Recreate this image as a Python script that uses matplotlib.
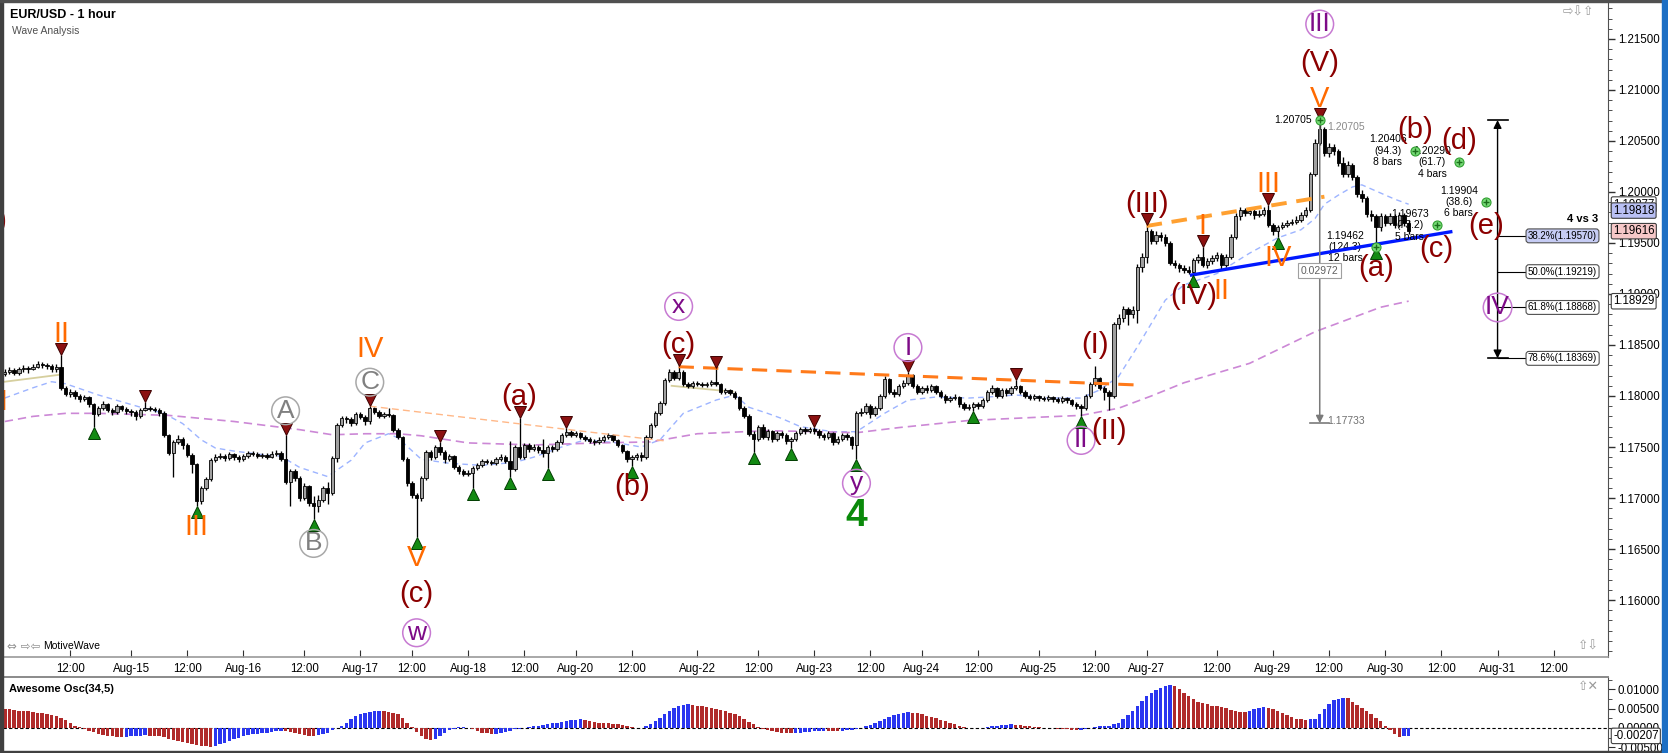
import numpy as np
import matplotlib
matplotlib.use("Agg")
from matplotlib import pyplot as plt
from matplotlib.patches import Rectangle
from matplotlib.ticker import MultipleLocator
from matplotlib.transforms import offset_copy

plt.rcParams['font.family'] = ['Liberation Sans', 'DejaVu Sans']

W, H = 1668, 753
BASE = 1.17  # all *_pips lists are pips above 1.1700

# ---- hourly candles ----
first_open = 122
close_pips = [
    124, 125, 123, 126, 127, 126, 128, 131, 130, 129,   # 0
    126, 128, 108, 102, 104, 100, 97, 99, 92, 82,       # 10
    88, 92, 86, 84, 90, 87, 85, 84, 80, 86,             # 20
    88, 87, 86, 83, 62, 44, 55, 58, 52, 42,             # 30
    33, -3, 10, 19, 37, 40, 41, 39, 43, 40,             # 40
    38, 41, 44, 43, 41, 42, 40, 43, 44, 38,             # 50
    16, 26, 20, 0, 12, -5, -8, -2, 10, 5,               # 60
    39, 72, 78, 77, 74, 82, 79, 75, 88, 84,             # 70
    80, 82, 81, 67, 60, 38, 15, 3, 0, 20,               # 80
    45, 40, 50, 45, 38, 41, 30, 26, 24, 25,             # 90
    29, 32, 36, 35, 34, 38, 40, 36, 28, 50,             # 100
    40, 52, 48, 50, 47, 44, 50, 48, 55, 62,             # 110
    65, 62, 64, 60, 58, 56, 55, 57, 60, 62,             # 120
    57, 52, 46, 38, 40, 42, 40, 60, 72, 83,             # 130
    93, 116, 124, 118, 124, 112, 110, 113, 112, 111,    # 140
    112, 114, 112, 104, 106, 103, 99, 88, 80, 63,       # 150
    58, 70, 60, 66, 58, 64, 62, 56, 58, 64,             # 160
    68, 66, 68, 66, 62, 60, 64, 55, 58, 62,             # 170
    60, 52, 83, 84, 90, 82, 88, 100, 117, 104,          # 180
    102, 110, 113, 121, 110, 104, 108, 106, 110, 104,   # 190
    100, 96, 98, 99, 92, 88, 89, 92, 90, 96,            # 200
    104, 108, 100, 106, 103, 108, 110, 104, 100, 98,    # 210
    100, 98, 97, 99, 97, 95, 98, 96, 92, 90,            # 220
    88, 100, 112, 118, 108, 104, 100, 171, 176, 185,    # 230
    180, 184, 226, 236, 262, 252, 258, 256, 250, 230,   # 240
    228, 225, 224, 222, 233, 236, 228, 232, 235, 238,   # 250
    228, 236, 256, 276, 282, 279, 281, 277, 278, 282,   # 260
    268, 262, 266, 268, 270, 271, 273, 277, 282, 318,   # 270
    348, 362, 338, 344, 340, 328, 318, 326, 315, 298,   # 280
    294, 278, 276, 266, 276, 270, 276, 268, 277, 270,   # 290
    261.6,                                              # 300
]
high_pips = [
    126, 128, 127, 128, 130, 129, 131, 134, 133, 132,
    131, 131, 140, 110, 107, 106, 102, 101, 100, 93,
    90, 95, 93, 88, 92, 91, 89, 87, 86, 88,
    94, 90, 89, 88, 85, 63, 57, 62, 60, 54,
    44, 34, 12, 21, 39, 43, 44, 43, 45, 44,
    42, 43, 46, 46, 45, 44, 44, 46, 47, 46,
    62, 28, 28, 22, 15, 13, 2, 3, 12, 16,
    41, 74, 80, 80, 79, 84, 84, 81, 90, 89,
    86, 84, 88, 82, 69, 61, 40, 17, 5, 22,
    47, 47, 52, 55, 47, 43, 42, 32, 28, 27,
    31, 34, 38, 38, 37, 40, 43, 42, 56, 52,
    78, 54, 54, 53, 52, 58, 52, 52, 57, 64,
    69, 67, 66, 65, 62, 60, 58, 60, 62, 64,
    63, 58, 53, 47, 42, 44, 45, 62, 74, 85,
    95, 118, 126, 125, 129, 125, 114, 115, 115, 114,
    114, 116, 127, 113, 108, 107, 105, 100, 90, 82,
    66, 72, 73, 68, 67, 66, 66, 64, 60, 66,
    70, 70, 70, 70, 68, 64, 66, 65, 61, 64,
    64, 61, 85, 88, 93, 92, 90, 102, 120, 118,
    107, 112, 116, 124, 122, 112, 110, 111, 112, 111,
    106, 102, 100, 102, 100, 94, 92, 94, 94, 98,
    106, 111, 109, 108, 108, 110, 116, 111, 106, 102,
    102, 101, 100, 101, 100, 99, 100, 99, 97, 94,
    92, 102, 114, 129, 119, 110, 106, 173, 180, 188,
    187, 188, 229, 240, 268, 264, 262, 261, 259, 252,
    233, 230, 228, 227, 235, 239, 246, 235, 238, 241,
    240, 239, 259, 279, 285, 284, 284, 283, 282, 285,
    287, 270, 268, 271, 273, 274, 276, 280, 285, 320,
    352, 370.5, 364, 348, 347, 342, 334, 330, 328, 317,
    302, 296, 282, 278, 279, 278, 279, 278, 280, 279,
    273,
]
low_pips = [
    120, 122, 121, 121, 124, 123, 125, 127, 127, 126,
    124, 124, 106, 100, 99, 97, 94, 95, 89, 70,
    80, 86, 84, 81, 82, 85, 82, 80, 76, 78,
    85, 85, 84, 80, 60, 42, 21, 53, 48, 40,
    25, -8, -6, 8, 17, 35, 38, 36, 37, 37,
    35, 36, 39, 41, 39, 39, 38, 39, 41, 36,
    14, -8, 17, -3, -2, -8, -21, -14, -4, -6,
    3, 35, 70, 74, 71, 72, 77, 72, 73, 82,
    78, 78, 79, 65, 58, 36, 12, 0, -38, -3,
    18, 37, 38, 42, 34, 36, 28, 24, 22, 22,
    10, 27, 30, 33, 32, 32, 36, 34, 21, 26,
    38, 38, 45, 46, 44, 40, 29, 45, 46, 53,
    60, 60, 60, 58, 56, 54, 52, 53, 55, 58,
    55, 50, 44, 35, 31, 37, 36, 38, 58, 70,
    81, 91, 114, 116, 116, 110, 108, 108, 110, 109,
    109, 110, 110, 102, 102, 101, 97, 86, 78, 61,
    45, 56, 58, 57, 55, 56, 59, 53, 49, 56,
    62, 63, 64, 63, 59, 57, 58, 52, 53, 56,
    57, 48, 38, 80, 82, 78, 80, 86, 98, 102,
    99, 100, 108, 111, 108, 102, 102, 103, 104, 102,
    98, 93, 94, 96, 89, 86, 86, 85, 87, 88,
    94, 102, 98, 98, 100, 101, 106, 102, 98, 96,
    96, 95, 95, 95, 94, 93, 93, 93, 90, 87,
    80, 86, 98, 110, 106, 96, 86, 98, 166, 173,
    170, 176, 172, 222, 230, 249, 249, 252, 247, 228,
    225, 222, 221, 220, 219, 230, 226, 225, 229, 232,
    224, 226, 234, 254, 273, 276, 277, 274, 275, 276,
    266, 258, 256, 264, 266, 268, 269, 271, 275, 280,
    316, 346, 335, 334, 336, 325, 315, 315, 312, 295,
    290, 275, 272, 246.2, 262, 267, 268, 265, 266, 267,
    259,
]

# Awesome Osc(34,5), units of 0.0001, one per candle
ao_vals = [
    50, 48, 46, 45, 44, 43, 42, 40, 38, 36, 34, 30, 26, 20, 14, 6, 2,   # 0
    -3, -7, -11, -15, -18, -20, -22,                                      # 17
    -24, -24, -23, -22, -21,                                              # 24
    -20, -19, -20, -21, -22, -24,                                         # 29
    -28, -31, -34, -37, -40, -43, -45, -47, -48, -49,                     # 35
    -46, -42, -38, -33, -28, -25, -22, -19, -17, -15, -13, -12, -11, -9, -8,  # 45
    -8, -10, -13, -16, -18, -20, -21,                                     # 60
    -19, -16, -12, -6, -1,                                                # 67
    6, 14, 22, 30, 37, 40, 42, 43, 44,                                    # 72
    43, 42, 40, 35, 26, 14, 2,                                            # 81
    -10, -20, -28, -32,                                                   # 88
    -28, -20, -12, -6, -2, 2, 3,                                          # 92
    0, -4, -8, -12, -14, -16,                                             # 99
    -15, -13, -10, -7, -4,                                                # 105
    -2, 0, 2, 4, 6, 8, 10, 12, 14, 16,                                    # 110
    18, 20, 21, 22, 20, 18, 16, 14, 13, 12, 11, 9, 7, 4, 2, 1, 0,         # 120
    4, 10, 18, 26, 36, 45, 52, 57, 60, 61,                                # 137
    60, 58, 56, 54, 52, 50, 47, 44, 40, 35, 30, 24, 16, 9, 3,             # 147
    -2, -6, -9, -11, -12, -13, -14,                                       # 162
    -13, -12, -11, -10, -9, -8, -7, -7, -7, -8, -7, -6, -5, -3,           # 169
    0, 4, 8, 13, 18, 24, 29, 33, 36, 39, 41,                              # 183
    40, 38, 35, 32, 29, 25, 21, 17, 13, 9, 6, 3, 1, 0, -1,                # 194
    1, 3, 5, 6, 7, 8, 9, 8, 7, 6, 4, 3, 2, 1, 0,                          # 209
    -1, -2, -3, -4, -5, -6, -5, -3, 0, 3, 4, 5, 6,                        # 224
    10, 14, 24, 34, 44, 56, 70, 82, 90, 98, 104, 110, 112,                # 237
    108, 100, 92, 84, 74, 68, 65, 62, 58, 56, 54, 51, 47, 44, 42, 41,     # 250
    44, 48, 52, 55,                                                       # 266
    53, 48, 44, 39, 33, 28, 24, 22, 21,                                   # 270
    22, 24, 36, 50, 63, 72, 76, 78,                                       # 279
    77, 68, 60, 52, 45, 36, 27, 17, 5, -6, -15, -23, -22, -21,            # 287
]

# moving averages (vertices)
fast_ma_idx = [0, 6, 10, 13, 20, 29, 34, 38, 42, 45, 49, 56, 59, 63, 69, 74, 77, 82, 84, 89,
               95, 102, 109, 113, 119, 124, 131, 136, 140, 145, 152, 156, 159, 163, 166, 170,
               174, 177, 182, 188, 193, 199, 206, 210, 216, 223, 230, 234, 238, 242, 245, 248,
               252, 259, 266, 272, 277, 280, 282, 285, 288, 290, 294, 297, 300]
fast_ma_pips = [98, 108, 114, 112, 101, 89, 83, 73, 57, 49, 46, 42, 41, 30, 21, 37, 54, 63, 59, 38,
                34, 32, 35, 40, 50, 57, 54, 50, 57, 83, 96, 101, 89, 83, 78, 70,
                67, 65, 65, 83, 96, 99, 98, 99, 101, 98, 98, 106, 119, 148, 171, 194,
                209, 220, 240, 255, 263, 274, 288, 297, 305, 307, 299, 293, 288]
slow_ma_idx = [0, 6, 13, 20, 35, 49, 63, 70, 77, 84, 89, 99, 113, 127, 138, 148, 163, 174,
               182, 191, 206, 220, 230, 238, 245, 252, 266, 280, 294, 300]
slow_ma_pips = [75, 80, 83, 83, 81, 75, 67, 62, 63, 63, 61, 54, 52, 54, 55, 63, 66, 65,
                64, 69, 76, 79, 81, 88, 100, 113, 132, 163, 187, 193]

tick_idx = [14, 27, 39, 51, 64, 76, 87, 99, 111, 122, 134, 148, 161, 173, 185, 196, 208,
            221, 233, 244, 259, 271, 283, 295, 307, 319, 331]
tick_labels = ['12:00', 'Aug-15', '12:00', 'Aug-16', '12:00', 'Aug-17', '12:00', 'Aug-18',
               '12:00', 'Aug-20', '12:00', 'Aug-22', '12:00', 'Aug-23', '12:00', 'Aug-24',
               '12:00', 'Aug-25', '12:00', 'Aug-27', '12:00', 'Aug-29', '12:00', 'Aug-30',
               '12:00', 'Aug-31', '12:00']
price_ticks = [1.160, 1.165, 1.170, 1.175, 1.180, 1.185, 1.190, 1.195, 1.200, 1.205, 1.210, 1.215]
ao_ticks = [-0.005, 0.0, 0.005, 0.010]

swing_highs = [12, 30, 60, 78, 93, 110, 120, 144, 152, 173, 193, 216, 244, 256, 270, 281]
swing_lows = [19, 41, 66, 88, 100, 108, 116, 134, 160, 168, 182, 207, 230, 254, 272, 293]

# bar, side, text, style, stack level
wave_labels = [
    (12, 'H', 'II', 'orange', 0), (41, 'L', 'III', 'orange', 0),
    (60, 'H', 'A', 'gray', 0), (66, 'L', 'B', 'gray', 0),
    (78, 'H', 'C', 'gray', 0), (78, 'H', 'IV', 'orange', 1),
    (88, 'L', 'V', 'orange', 0), (88, 'L', '(c)', 'red', 1), (88, 'L', 'w', 'purple', 2),
    (110, 'H', '(a)', 'red', 0), (134, 'L', '(b)', 'red', 0),
    (144, 'H', '(c)', 'red', 0), (144, 'H', 'x', 'purple', 1),
    (182, 'L', 'y', 'purple', 0), (182, 'L', '4', 'green', 1),
    (193, 'H', 'I', 'purple', 0), (230, 'L', 'II', 'purple', 0),
    (233, 'H', '(I)', 'red', 0), (236, 'L', '(II)', 'red', 0),
    (244, 'H', '(III)', 'red', 0), (254, 'L', '(IV)', 'red', 0),
    (256, 'H', 'I', 'orange', 0), (260, 'L', 'II', 'orange', 0),
    (270, 'H', 'III', 'orange', 0), (272, 'L', 'IV', 'orange', 0),
    (281, 'H', 'V', 'orange', 0), (281, 'H', '(V)', 'red', 1), (281, 'H', 'III', 'purple', 2),
    (293, 'L', '(a)', 'red', 0),
]

# projected wave targets
proj_names = ['(b)', '(c)', '(d)', '(e)']
proj_idx = [301.3, 306.0, 310.8, 316.5]
proj_price = [1.20406, 1.19673, 1.20290, 1.19904]
proj_ratio = ['94.3', '73.2', '61.7', '38.6']
proj_bars = [8, 5, 4, 6]
wave_a_ratio, wave_a_bars = '124.3', 12

fib_pct = ['38.2', '50.0', '61.8', '78.6']
fib_price = [1.19570, 1.19219, 1.18868, 1.18369]
measure_low = 1.17733

flag_price = [1.19877, 1.19818, 1.19616, 1.18929]
flag_fill = ['white', '#b9c0f4', '#f6c8c8', 'white']
ao_flag = -0.00207

# trend lines: (bar, price) pairs
trend_lines = [
    ((144, 1.18287), (242, 1.18108), '#ff7a1a', 2.2, (5, 3)),
    ((244, 1.19667), (282, 1.19954), '#ffa030', 2.8, (4, 2.5)),
    ((78, 1.17900), (141, 1.17560), '#ffb888', 1.0, (5, 3)),
]
blue_line = ((253.6, 1.19186), (309, 1.19610))
khaki_lines = [((0, 1.18140), (12, 1.18210)), ((142.5, 1.18100), (155.6, 1.18042))]

# ---------------------------------------------------------------
px = lambda a: BASE + np.asarray(a, dtype=float) / 10000.0
close = px(close_pips)
high = px(high_pips)
low = px(low_pips)
openp = np.r_[px(first_open), close[:-1]]
x = np.arange(len(close))
ao = np.asarray(ao_vals, dtype=float) / 10000.0


def rect(l, t, r, b):
    return [l / W, 1 - b / H, (r - l) / W, (b - t) / H]


fig = plt.figure(figsize=(W / 100, H / 100), dpi=100)
ax = fig.add_axes(rect(3, 2, 1608, 657))
ao_ax = fig.add_axes(rect(3, 677, 1608, 750), sharex=ax)

# moving averages
ax.plot(fast_ma_idx, px(fast_ma_pips), color='#9db4ff', lw=1.0, dashes=(4, 3), zorder=1)
ax.plot(slow_ma_idx, px(slow_ma_pips), color='#cc88d6', lw=1.2, dashes=(5, 3), zorder=1)

# thin guide lines
for (x0, y0), (x1, y1) in khaki_lines:
    ax.plot([x0, x1], [y0, y1], color='#d6cf9e', lw=1.3, zorder=2)
for (x0, y0), (x1, y1), c, lw, ds in trend_lines:
    ax.plot([x0, x1], [y0, y1], color=c, lw=lw, dashes=ds, zorder=4)
ax.plot([blue_line[0][0], blue_line[1][0]], [blue_line[0][1], blue_line[1][1]],
        color='#0018ff', lw=2.4, zorder=4)

# candles
up = close >= openp
ax.vlines(x, low, high, color='black', lw=0.95, zorder=3)
ax.bar(x[up], (close - openp)[up], bottom=openp[up], width=0.72, color='#a0a0a0',
       edgecolor='black', lw=0.6, zorder=3)
ax.bar(x[~up], (close - openp)[~up], bottom=openp[~up], width=0.72, color='black',
       edgecolor='black', lw=0.6, zorder=3)

# swing markers
tri_hi = offset_copy(ax.transData, fig=fig, x=0, y=6, units='dots')
tri_lo = offset_copy(ax.transData, fig=fig, x=0, y=-6, units='dots')
ax.plot(swing_highs, high[swing_highs], 'v', transform=tri_hi, ms=8.5,
        mfc='#8b1111', mec='#3d0000', mew=0.7, zorder=5)
ax.plot(swing_lows, low[swing_lows], '^', transform=tri_lo, ms=8.5,
        mfc='#138a13', mec='#003d00', mew=0.7, zorder=5)

circ = lambda ec: dict(boxstyle='circle,pad=0.07', fc='none', ec=ec, lw=1.1)
label_style = {
    'orange': dict(color='#ff6a00', fontsize=21),
    'red': dict(color='#8b0000', fontsize=21),
    'purple': dict(color='#7d0a87', fontsize=19, bbox=circ('#c77ad2')),
    'gray': dict(color='#808080', fontsize=19, bbox=circ('#a8a8a8')),
    'green': dict(color='#0a8a0a', fontsize=28, fontweight='bold'),
}
for bar, side, text, kind, level in wave_labels:
    base = 24 if kind in ('purple', 'gray') else 21
    off = base + 36 * level
    yv, dy = (high[bar], off) if side == 'H' else (low[bar], -off)
    ax.annotate(text, (bar, yv), xytext=(0, dy), textcoords='offset pixels',
                ha='center', va='center', zorder=6, **label_style[kind])

# labels cut by the left edge
ax.text(-0.2, 1.17938, 'I', ha='center', va='center', clip_on=True, **label_style['orange'])
ax.text(0.6, 1.19720, '(V)', ha='right', va='center', clip_on=True, **label_style['red'])

# measured move from the top
peak = high[281]
ax.annotate('', xy=(281, measure_low), xytext=(281, peak),
            arrowprops=dict(arrowstyle='-|>', color='#7a7a7a', lw=1.1, shrinkA=0, shrinkB=0,
                            mutation_scale=11), zorder=4)
ax.plot([279, 283], [measure_low] * 2, color='#7a7a7a', lw=1.2, zorder=4)
ax.annotate(f'{measure_low:.5f}', (281, measure_low), xytext=(7, 2), textcoords='offset pixels',
            ha='left', va='center', fontsize=7.5, color='#707070')
ax.text(281, 1.19229, f'{peak - measure_low:.5f}', ha='center', va='center', fontsize=7.5,
        color='#606060', zorder=6,
        bbox=dict(boxstyle='square,pad=0.25', fc='white', ec='#a0a0a0', lw=0.8))

# wave (a) and the peak
mk = dict(ms=6.5, mfc='#78dc78', mec='#2f9e2f', mew=0.8, zorder=7)
pl = dict(ms=4.5, mec='#1b6e1b', mew=1.0, zorder=8)
ax.plot([281, 293], [peak, low[293]], 'o', **mk)
ax.plot([281, 293], [peak, low[293]], '+', **pl)
ax.annotate(f'{peak:.5f}', (281, peak), xytext=(-8, 0), textcoords='offset pixels',
            ha='right', va='center', fontsize=7.5, color='black')
ax.annotate(f'{peak:.5f}', (281, peak), xytext=(7, -7), textcoords='offset pixels',
            ha='left', va='center', fontsize=7.5, color='#8a8a8a')
ax.annotate(f'{low[293]:.5f}\n({wave_a_ratio})\n{wave_a_bars} bars', (293, low[293]),
            xytext=(-12, 0), textcoords='offset pixels', ha='right', va='center',
            multialignment='center', fontsize=7.5, linespacing=1.15)

# projected (b)-(e)
ax.plot(proj_idx, proj_price, 'o', **mk)
ax.plot(proj_idx, proj_price, '+', **pl)
for name, xi, pr, ratio, nb, k in zip(proj_names, proj_idx, proj_price, proj_ratio,
                                      proj_bars, range(4)):
    ax.annotate(f'{pr:.5f}\n({ratio})\n{nb} bars', (xi, pr), xytext=(-8, 0),
                textcoords='offset pixels', ha='right', va='center', multialignment='center',
                fontsize=7.5, linespacing=1.15, zorder=6)
    dy = 21 if k % 2 == 0 else -24
    ax.annotate(name, (xi, pr), xytext=(0, dy), textcoords='offset pixels', ha='center',
                va='center', zorder=6, **label_style['red'])

# fib retracement of the whole move
fx = 319
ax.annotate('', xy=(fx, peak), xytext=(fx, fib_price[-1]),
            arrowprops=dict(arrowstyle='<|-|>', color='black', lw=1.0, shrinkA=0, shrinkB=0,
                            mutation_scale=12), zorder=5)
ax.plot([fx - 2, fx + 2.2], [peak] * 2, color='black', lw=1.2, zorder=5)
ax.plot([fx - 2, fx + 2.2], [fib_price[-1]] * 2, color='black', lw=1.2, zorder=5)
for j, (pct, pr) in enumerate(zip(fib_pct, fib_price)):
    ax.plot([fx, fx + 6.4], [pr, pr], color='black', lw=0.8, zorder=5)
    ax.text(fx + 6.5, pr, f'{pct}%({pr:.5f})', ha='left', va='center', fontsize=7, zorder=6,
            bbox=dict(boxstyle='round,pad=0.2,rounding_size=0.3',
                      fc='#c6ccf4' if j == 0 else 'white', ec='#505050', lw=0.8))
ax.annotate('IV', (fx, fib_price[2]), ha='center', va='center', zorder=6,
            **label_style['purple'])
ax.text(340.5, 1.19735, '4 vs 3', ha='right', va='center', fontsize=8, fontweight='bold')

# axes cosmetics
ax.set_xlim(-0.38, 342.6)
ax.set_ylim(1.154412, 1.218627)
ax.yaxis.tick_right()
ax.set_yticks(price_ticks)
ax.set_yticklabels([f'{t:.5f}' for t in price_ticks])
ax.yaxis.set_minor_locator(MultipleLocator(0.001))
ax.tick_params(axis='y', which='major', direction='out', length=5, width=1, pad=2,
               labelsize=8.3, colors='#303030', labelcolor='black')
ax.tick_params(axis='y', which='minor', direction='out', length=3, colors='#303030')
ax.set_xticks(tick_idx)
ax.set_xticklabels(tick_labels)
ax.tick_params(axis='x', direction='in', length=5, pad=4, labelsize=8.3, colors='#303030',
               labelcolor='black')
for s in ('left', 'top'):
    ax.spines[s].set_visible(False)
ax.spines['right'].set_color('#505050')
ax.spines['bottom'].set_color('#9a9a9a')
ax.spines['bottom'].set_linewidth(1.2)

for pr, fc in zip(flag_price, flag_fill):
    ax.annotate(f'{pr:.5f}', xy=(1, pr), xycoords=('axes fraction', 'data'), xytext=(5, 0),
                textcoords='offset pixels', ha='left', va='center', fontsize=8.3,
                annotation_clip=False,
                bbox=dict(boxstyle='round,pad=0.15,rounding_size=0.15', fc=fc, ec='#404040',
                          lw=0.8))

# Awesome oscillator
rising = np.r_[False, ao[1:] > ao[:-1]]
ao_ax.bar(x, ao, width=0.74, color=np.where(rising, '#2a36f0', '#b02a2a'), zorder=2)
ao_ax.axhline(0, color='black', lw=0.8, dashes=(3, 2), zorder=1)
ao_ax.set_ylim(-0.00574, 0.01323)
ao_ax.yaxis.tick_right()
ao_ax.set_yticks(ao_ticks)
ao_ax.set_yticklabels([f'{t:.5f}' for t in ao_ticks])
ao_ax.yaxis.set_minor_locator(MultipleLocator(0.0025))
ao_ax.tick_params(axis='y', which='major', direction='out', length=5, pad=2, labelsize=8.3,
                  colors='#303030', labelcolor='black')
ao_ax.tick_params(axis='y', which='minor', direction='out', length=3, colors='#303030')
ao_ax.tick_params(axis='x', bottom=False, labelbottom=False)
for s in ('left', 'bottom'):
    ao_ax.spines[s].set_visible(False)
ao_ax.spines['top'].set_color('#8a8a8a')
ao_ax.spines['top'].set_linewidth(1.4)
ao_ax.spines['right'].set_color('#505050')
ao_ax.annotate(f'{ao_flag:.5f}', xy=(1, ao_flag), xycoords=('axes fraction', 'data'),
               xytext=(5, 0), textcoords='offset pixels', ha='left', va='center', fontsize=8.3,
               annotation_clip=False,
               bbox=dict(boxstyle='round,pad=0.15,rounding_size=0.15', fc='white',
                         ec='#404040', lw=0.8))
ao_ax.text(0.004, 0.84, 'Awesome Osc(34,5)', transform=ao_ax.transAxes, fontsize=8,
           fontweight='bold', va='center')

# frame, titles, little icons
fig.add_artist(Rectangle((0, 0), 3 / W, 1, transform=fig.transFigure, color='#404040'))
fig.add_artist(Rectangle((0, 1 - 2 / H), 1, 2 / H, transform=fig.transFigure, color='#505050'))
fig.add_artist(Rectangle((0, 0), 1, 2 / H, transform=fig.transFigure, color='#404040'))
fig.add_artist(Rectangle((1662 / W, 0), 6 / W, 1, transform=fig.transFigure, color='#1d6fc4'))
fig.text(10 / W, 1 - 18 / H, 'EUR/USD - 1 hour', fontsize=9, fontweight='bold', va='baseline')
fig.text(12 / W, 1 - 34 / H, 'Wave Analysis', fontsize=7.5, color='#505050', va='baseline')
fig.text(7 / W, 1 - 646 / H, '⇔ ⇨⇦', fontsize=8.5, color='#909090', va='center',
         family='DejaVu Sans')
fig.text(43 / W, 1 - 646 / H, 'MotiveWave', fontsize=7.5, color='black', va='center')
fig.text(1563 / W, 1 - 12 / H, '⇨⇩⇧', fontsize=9, color='#9a9a9a', va='center',
         family='DejaVu Sans')
fig.text(1578 / W, 1 - 646 / H, '⇧⇩', fontsize=9, color='#9a9a9a', va='center',
         family='DejaVu Sans')
fig.text(1578 / W, 1 - 686 / H, '⇧✕', fontsize=9, color='#9a9a9a', va='center',
         family='DejaVu Sans')

fig.savefig('out.png', dpi=100)
